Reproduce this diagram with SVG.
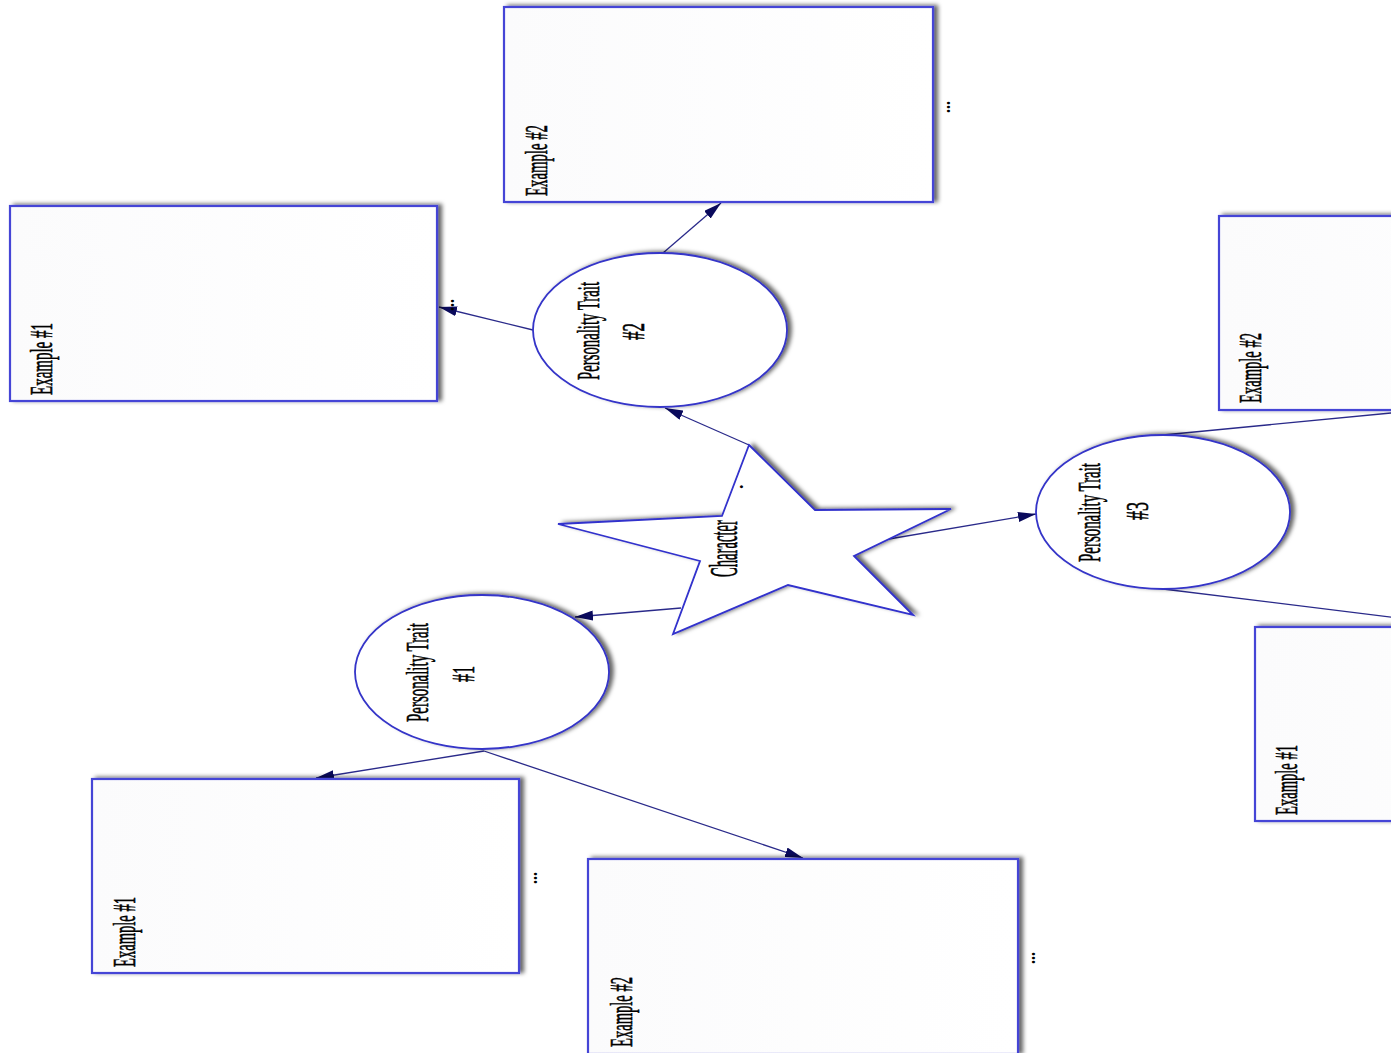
<svg xmlns="http://www.w3.org/2000/svg" width="1391" height="1053" viewBox="0 0 1391 1053">
<defs>
<filter id="sh" x="-10%" y="-10%" width="125%" height="125%">
<feDropShadow dx="4" dy="-1" stdDeviation="2.2" flood-color="#000" flood-opacity="0.6"/>
</filter>
<linearGradient id="bf" x1="0" y1="0" x2="1" y2="0">
<stop offset="0" stop-color="#fbfbfc"/>
<stop offset="1" stop-color="#ffffff"/>
</linearGradient>
<marker id="arr" markerUnits="userSpaceOnUse" markerWidth="18" markerHeight="10" viewBox="0 0 18 10" refX="18" refY="5" orient="auto">
<path d="M0,0 L18,5 L0,10 z" fill="#0a0a5c"/>
</marker>
</defs>
<style>
.box{fill:url(#bf);stroke:#4444d6;stroke-width:2.2;filter:url(#sh)}
.ell{fill:#ffffff;stroke:#3434c8;stroke-width:1.8;filter:url(#sh)}
.star{fill:#ffffff;stroke:#3030cc;stroke-width:1.8;filter:url(#sh)}
.lbl{font-family:"Liberation Serif","Times New Roman",serif;font-size:32px;fill:#000;stroke:#000;stroke-width:0.6}
.chr{font-family:"Liberation Serif","Times New Roman",serif;font-size:39px;fill:#000;stroke:#000;stroke-width:0.6}
.dots{font-family:"Liberation Serif","Times New Roman",serif;font-size:18px;font-weight:bold;fill:#000}
.con{stroke:#2a2a8a;stroke-width:1.3;fill:none;marker-end:url(#arr)}
</style>
<rect width="1391" height="1053" fill="#ffffff"/>

<g id="connectors">
<line class="con" x1="749" y1="445" x2="665" y2="408"/>
<line class="con" x1="533" y1="330" x2="439" y2="307"/>
<line class="con" x1="663" y1="253" x2="721" y2="203"/>
<line class="con" x1="681" y1="608" x2="575" y2="617"/>
<line class="con" x1="889" y1="539" x2="1036" y2="514"/>
<line class="con" x1="484" y1="751" x2="316" y2="778"/>
<line class="con" x1="484" y1="751" x2="803" y2="858"/>
<line class="con" x1="1163" y1="435" x2="1422" y2="410"/>
<line class="con" x1="1163" y1="589" x2="1472" y2="627"/>
</g>

<g id="character">
<polygon class="star" points="749,445 815,510 951,509 854,556 913,615 788,585 673,634 700,561 558,524 722,516"/>
<text class="chr" transform="translate(737,577) rotate(-90)" textLength="57" lengthAdjust="spacingAndGlyphs">Character</text>
<text class="dots" font-size="24" transform="translate(743,489) rotate(-90)">.</text>
</g>

<g id="trait1">
<ellipse class="ell" cx="482" cy="672" rx="127" ry="77"/>
<text class="lbl" transform="translate(428,722) rotate(-90)" textLength="99" lengthAdjust="spacingAndGlyphs">Personality Trait</text>
<text class="lbl" transform="translate(474,682) rotate(-90)" textLength="16" lengthAdjust="spacingAndGlyphs">#1</text>
</g>

<g id="trait2">
<ellipse class="ell" cx="660" cy="330" rx="127" ry="77"/>
<text class="lbl" transform="translate(599,380) rotate(-90)" textLength="98" lengthAdjust="spacingAndGlyphs">Personality Trait</text>
<text class="lbl" transform="translate(644,340) rotate(-90)" textLength="17" lengthAdjust="spacingAndGlyphs">#2</text>
</g>

<g id="trait3">
<ellipse class="ell" cx="1163" cy="512" rx="127" ry="77"/>
<text class="lbl" transform="translate(1100,562) rotate(-90)" textLength="99" lengthAdjust="spacingAndGlyphs">Personality Trait</text>
<text class="lbl" transform="translate(1148,520) rotate(-90)" textLength="18" lengthAdjust="spacingAndGlyphs">#3</text>
</g>

<g id="t2-example2">
<rect class="box" x="504" y="7" width="429" height="195"/>
<text class="lbl" transform="translate(547,196) rotate(-90)" textLength="71" lengthAdjust="spacingAndGlyphs">Example #2</text>
<text class="dots" transform="translate(950,113) rotate(-90)" textLength="12" lengthAdjust="spacingAndGlyphs">...</text>
</g>

<g id="t2-example1">
<rect class="box" x="10" y="206" width="427" height="195"/>
<text class="lbl" transform="translate(52,395) rotate(-90)" textLength="72" lengthAdjust="spacingAndGlyphs">Example #1</text>
<text class="dots" transform="translate(454,311) rotate(-90)" textLength="12" lengthAdjust="spacingAndGlyphs">...</text>
</g>

<g id="t3-example2">
<rect class="box" x="1219" y="216" width="429" height="194"/>
<text class="lbl" transform="translate(1261,403) rotate(-90)" textLength="70" lengthAdjust="spacingAndGlyphs">Example #2</text>
</g>

<g id="t3-example1">
<rect class="box" x="1255" y="627" width="429" height="194"/>
<text class="lbl" transform="translate(1297,815) rotate(-90)" textLength="70" lengthAdjust="spacingAndGlyphs">Example #1</text>
</g>

<g id="t1-example1">
<rect class="box" x="92" y="779" width="427" height="194"/>
<text class="lbl" transform="translate(135,967) rotate(-90)" textLength="70" lengthAdjust="spacingAndGlyphs">Example #1</text>
<text class="dots" transform="translate(537,884) rotate(-90)" textLength="12" lengthAdjust="spacingAndGlyphs">...</text>
</g>

<g id="t1-example2">
<rect class="box" x="588" y="859" width="430" height="195"/>
<text class="lbl" transform="translate(632,1047) rotate(-90)" textLength="70" lengthAdjust="spacingAndGlyphs">Example #2</text>
<text class="dots" transform="translate(1035,964) rotate(-90)" textLength="12" lengthAdjust="spacingAndGlyphs">...</text>
</g>
</svg>
